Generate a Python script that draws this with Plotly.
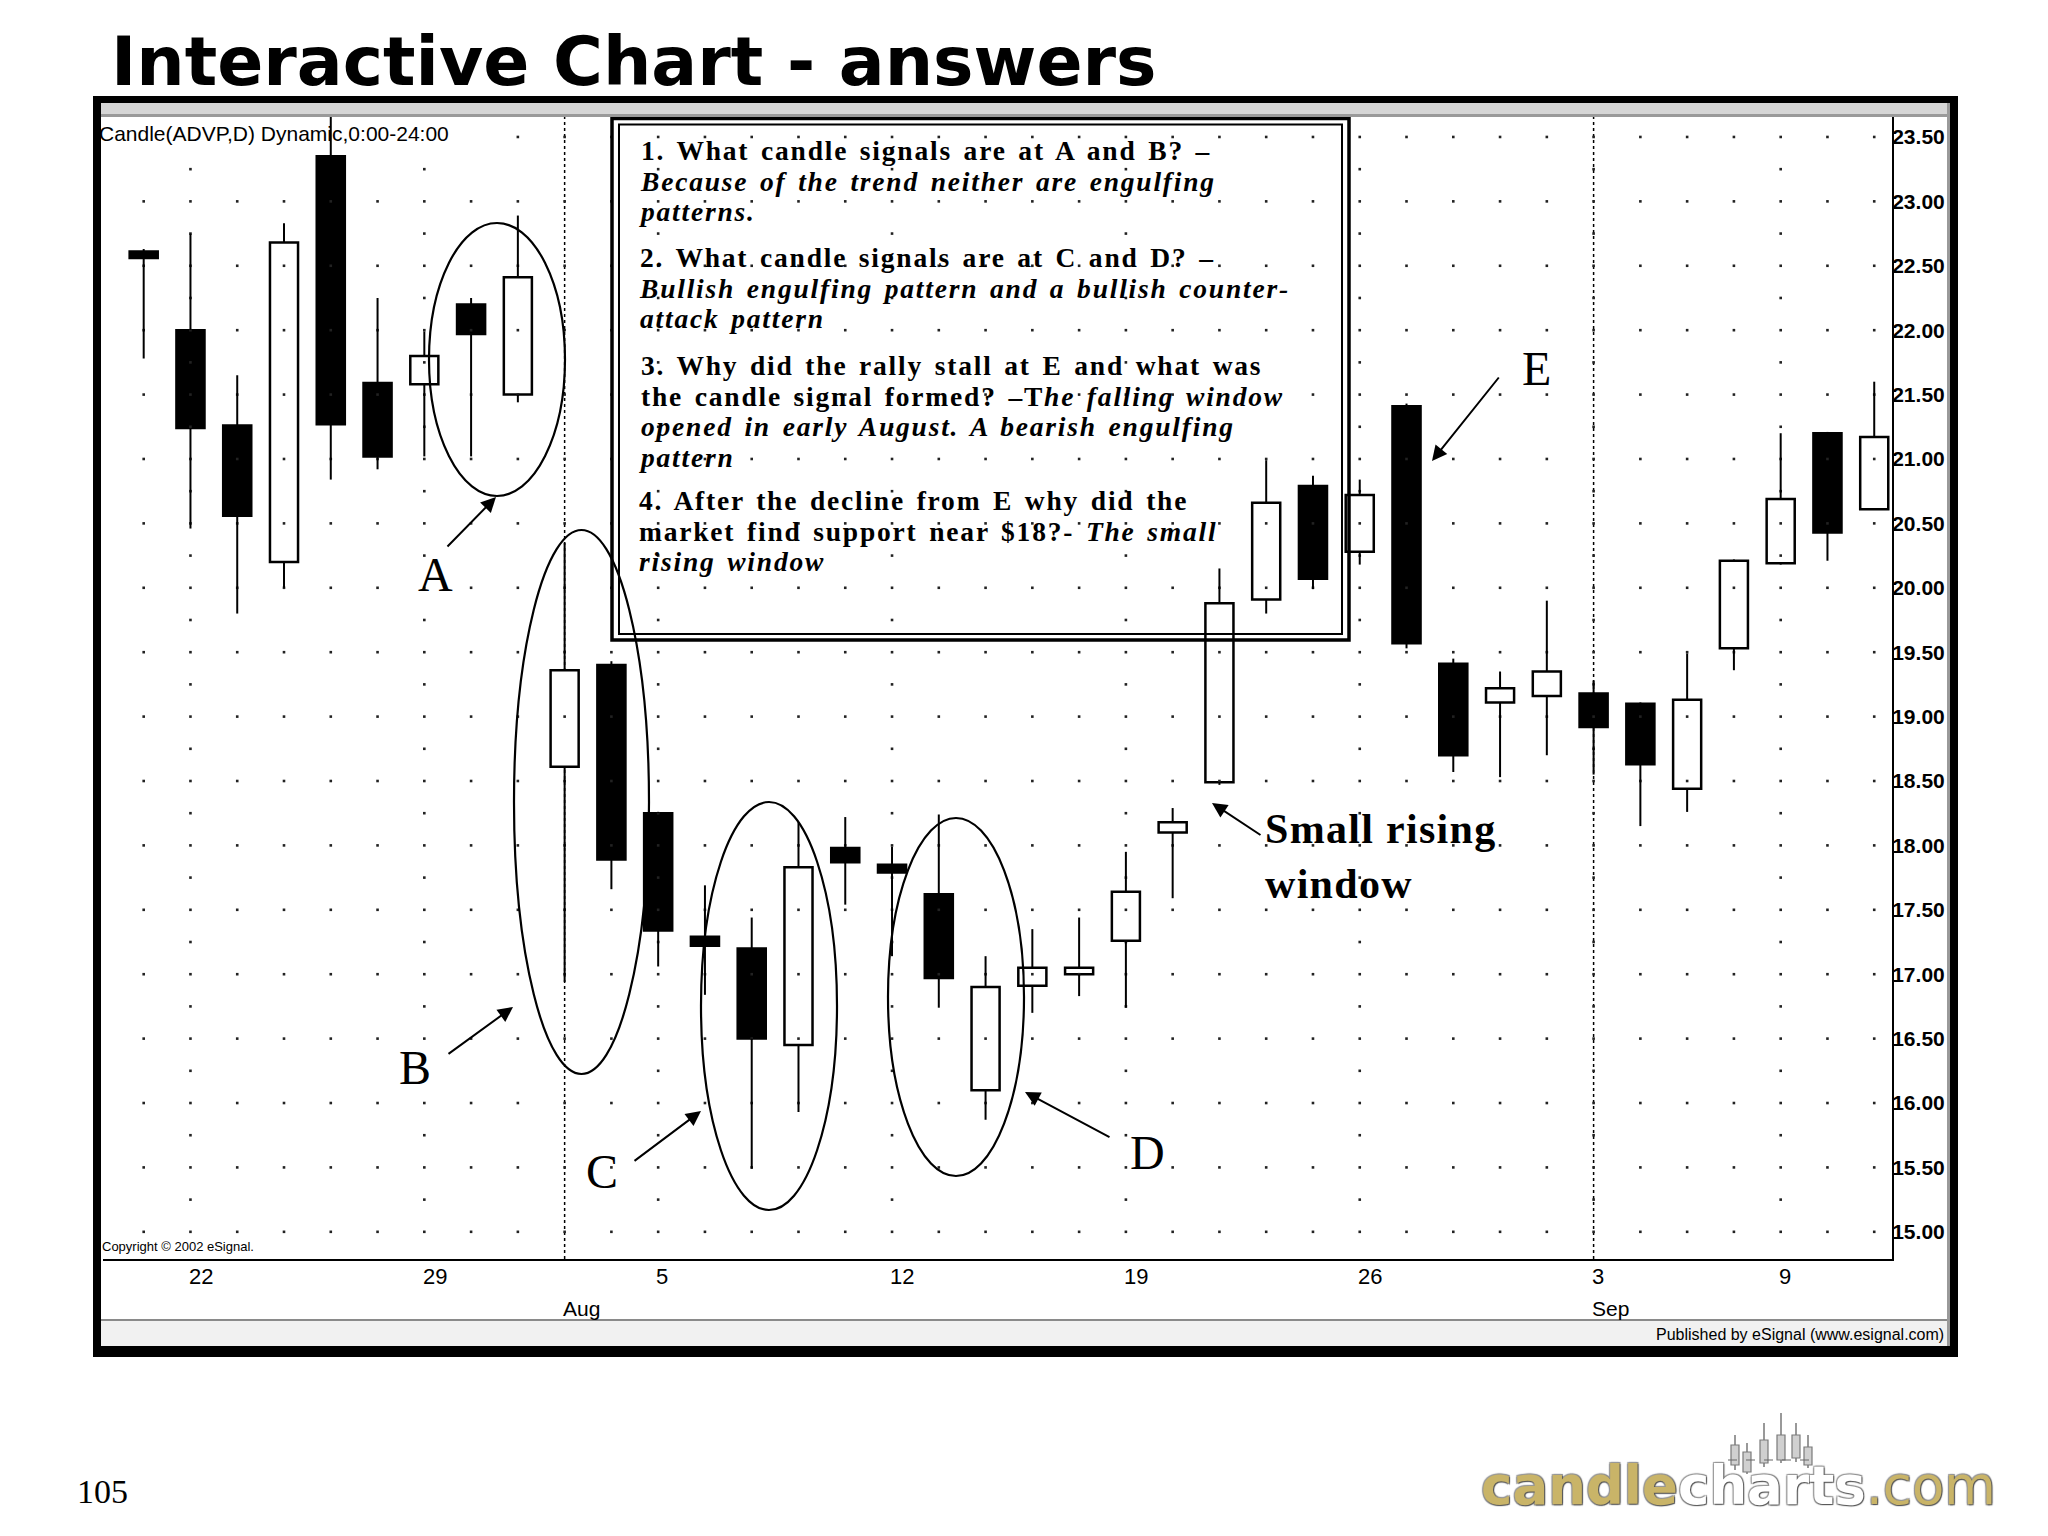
import plotly.graph_objects as go

# ---------------- data ----------------
dates = ["2002-07-19", "2002-07-22", "2002-07-23", "2002-07-24", "2002-07-25", "2002-07-26",
         "2002-07-29", "2002-07-30", "2002-07-31", "2002-08-01", "2002-08-02",
         "2002-08-05", "2002-08-06", "2002-08-07", "2002-08-08", "2002-08-09",
         "2002-08-12", "2002-08-13", "2002-08-14", "2002-08-15", "2002-08-16",
         "2002-08-19", "2002-08-20", "2002-08-21", "2002-08-22", "2002-08-23",
         "2002-08-26", "2002-08-27", "2002-08-28", "2002-08-29", "2002-08-30",
         "2002-09-03", "2002-09-04", "2002-09-05", "2002-09-06",
         "2002-09-09", "2002-09-10", "2002-09-11"]
opens = [22.61, 22.00, 21.26, 20.20, 23.35, 21.59, 21.58, 22.20, 21.50, 18.61, 19.40,
         18.25, 17.29, 17.20, 16.45, 17.98, 17.85, 17.62, 16.10, 16.91, 17.00,
         17.26, 18.10, 18.49, 19.91, 20.79, 20.28, 21.41, 19.41, 19.11, 19.16,
         19.18, 19.10, 18.44, 19.53, 20.19, 21.20, 20.61]
highs = [22.63, 22.75, 21.65, 22.83, 23.70, 22.25, 21.99, 22.25, 22.89, 20.35, 19.43,
         18.26, 17.69, 17.44, 18.18, 18.22, 17.99, 18.24, 17.14, 17.35, 17.44,
         17.95, 18.29, 20.15, 20.99, 20.87, 20.84, 21.43, 19.45, 19.35, 19.90,
         19.28, 19.11, 19.49, 20.22, 21.20, 21.21, 21.60]
lows = [21.78, 20.46, 19.80, 20.00, 20.84, 20.92, 21.02, 21.02, 21.44, 16.94, 17.66,
        17.06, 16.84, 15.49, 15.93, 17.54, 17.14, 16.74, 15.87, 16.70, 16.83,
        16.74, 17.59, 18.47, 19.80, 19.99, 20.18, 19.53, 18.57, 18.53, 18.70,
        18.55, 18.15, 18.26, 19.36, 20.18, 20.21, 20.61]
closes = [22.56, 21.24, 20.56, 22.68, 21.27, 21.02, 21.80, 21.97, 22.41, 19.36, 17.89,
          17.34, 17.22, 16.50, 17.83, 17.87, 17.79, 16.97, 16.90, 17.05, 17.05,
          17.64, 18.18, 19.88, 20.66, 20.07, 20.72, 19.57, 18.70, 19.22, 19.35,
          18.92, 18.63, 19.13, 20.21, 20.69, 20.43, 21.17]

price_ticks = [15.0, 15.5, 16.0, 16.5, 17.0, 17.5, 18.0, 18.5, 19.0, 19.5,
               20.0, 20.5, 21.0, 21.5, 22.0, 22.5, 23.0, 23.5]
week_dates = ["2002-07-22", "2002-07-29", "2002-08-05", "2002-08-12",
              "2002-08-19", "2002-08-26", "2002-09-03", "2002-09-09"]
week_labels = ["22", "29", "5", "12", "19", "26", "3", "9"]
month_dates = ["2002-08-01", "2002-09-03"]
month_labels = ["Aug", "Sep"]

# ---------------- geometry (page pixels of the plot area) ----------------
W, H = 2048, 1536
OFF = 8                      # page body margin around the figure
L, R, T, B = 103, 1892, 117, 1259
XR = [-0.87, 37.38]
YR = [14.789, 23.655]


def px(X):
    return (X - L) / (R - L)


def py(Y):
    return (B - Y) / (B - T)


def dx(X):
    return XR[0] + (X - L) / (R - L) * (XR[1] - XR[0])


def dy(Y):
    return YR[1] - (Y - T) / (B - T) * (YR[1] - YR[0])


SANS = "Liberation Sans, Arial, sans-serif"
SERIF = "Liberation Serif, Times New Roman, serif"

idx = list(range(len(dates)))
pos = {d: i for i, d in enumerate(dates)}

# ---------------- candle pieces ----------------
bases = [min(o, c) for o, c in zip(opens, closes)]
heights = [abs(c - o) for o, c in zip(opens, closes)]
fills = ["white" if c >= o else "black" for o, c in zip(opens, closes)]

wx, wy = [], []
for i, (o, h, l, c) in enumerate(zip(opens, highs, lows, closes)):
    lo_b, hi_b = min(o, c), max(o, c)
    if h > hi_b:
        wx += [i, i, None]
        wy += [hi_b, h, None]
    if l < lo_b:
        wx += [i, i, None]
        wy += [l, lo_b, None]

# grid dots: every candle column on every half-point, weekly columns on quarter points
gx, gy = [], []
for p in price_ticks:
    for i in idx:
        if p == 23.5 and i < 8:
            continue  # hidden behind the study label
        gx.append(i)
        gy.append(p)
week_idx = [pos[d] for d in week_dates]
q = 14.75
while q <= 23.51:
    if abs((q * 2) - round(q * 2)) > 1e-6:
        for i in week_idx:
            gx.append(i)
            gy.append(q)
    q += 0.25

fig = go.Figure()
fig.add_trace(go.Scatter(x=gx, y=gy, mode="markers",
                         marker=dict(symbol="square", size=2.6, color="#222222"),
                         hoverinfo="skip"))
fig.add_trace(go.Bar(x=idx, y=heights, base=bases, width=0.6,
                     marker=dict(color=fills, line=dict(color="black", width=2.5)),
                     hoverinfo="skip"))
fig.add_trace(go.Scatter(x=wx, y=wy, mode="lines",
                         line=dict(color="black", width=2), hoverinfo="skip"))

shapes = []
# month separators
for d in month_dates:
    shapes.append(dict(type="line", xref="x", yref="paper", x0=pos[d], x1=pos[d],
                       y0=0, y1=1, line=dict(color="black", width=1.5, dash="dot"),
                       layer="below"))

# ellipses A, B, C, D
for (x0, x1, y0, y1) in [(429, 565, 223, 496), (514, 649, 530, 1074),
                         (701, 837, 802, 1210), (888, 1024, 818, 1176)]:
    shapes.append(dict(type="circle", xref="x", yref="y", x0=dx(x0), x1=dx(x1),
                       y0=dy(y1), y1=dy(y0), line=dict(color="black", width=2.2)))

# double framed question box
shapes.append(dict(type="rect", xref="x", yref="y", x0=dx(612), x1=dx(1349),
                   y0=dy(640), y1=dy(118.5), line=dict(color="black", width=3.5)))
shapes.append(dict(type="rect", xref="x", yref="y", x0=dx(619), x1=dx(1342),
                   y0=dy(634), y1=dy(124.5), line=dict(color="black", width=2)))


def prect(x0, y0, x1, y1, fill, lw=0, lc=None):
    shapes.append(dict(type="rect", xref="paper", yref="paper",
                       x0=px(x0), x1=px(x1), y0=py(y1), y1=py(y0),
                       fillcolor=fill, line=dict(width=lw, color=lc or fill),
                       layer="above"))


# window chrome
prect(101, 103, 1950, 116, "#d6d6d6")
prect(101, 114, 1950, 117, "#9a9a9a")
prect(101, 1320, 1950, 1346, "#f1f1f1")
prect(101, 1319, 1950, 1321, "#8a8a8a")
prect(1947, 103, 1950, 1346, "#9a9a9a")
# heavy black frame
prect(93, 96, 1958, 103, "black")
prect(93, 1346, 1958, 1357, "black")
prect(93, 96, 101, 1357, "black")
prect(1950, 96, 1958, 1357, "black")

# little candle icon of the logo
for (cx, bt, bb, wt, wb) in [(1735, 1445, 1465, 1435, 1470), (1747, 1452, 1472, 1443, 1474),
                              (1764, 1440, 1463, 1423, 1467), (1781, 1435, 1460, 1413, 1463),
                              (1796, 1435, 1458, 1423, 1462), (1808, 1447, 1465, 1435, 1468)]:
    shapes.append(dict(type="line", xref="paper", yref="paper", x0=px(cx), x1=px(cx),
                       y0=py(wb), y1=py(wt), line=dict(color="#777777", width=1.5)))
    shapes.append(dict(type="rect", xref="paper", yref="paper", x0=px(cx - 4), x1=px(cx + 4),
                       y0=py(bb), y1=py(bt), fillcolor="#d0d0d0",
                       line=dict(color="#7a7a7a", width=1.2)))
shapes.append(dict(type="line", xref="paper", yref="paper", x0=px(1728), x1=px(1816),
                   y0=py(1460), y1=py(1460), line=dict(color="#666666", width=1.2, dash="dash")))

ann = []
# question box text: one block per question, tight line pitch
QS = 27.5
PITCH = 30.5
QSTYLE = f"font-size:{QS}px;letter-spacing:1.8px;word-spacing:3px"
paragraphs = [
    (158, ["<b>1. What candle signals are at A and B? –</b>",
           "<b><i>Because of the trend neither are engulfing</i></b>",
           "<b><i>patterns.</i></b>"]),
    (265, ["<b>2. What candle signals are at C and D? –</b>",
           "<b><i>Bullish engulfing pattern and a bullish counter-</i></b>",
           "<b><i>attack pattern</i></b>"]),
    (373, ["<b>3. Why did the rally stall at E and what was</b>",
           "<b>the candle signal formed? –T<i>he falling window</i></b>",
           "<b><i>opened in early August. A bearish engulfing</i></b>",
           "<b><i>pattern</i></b>"]),
    (508, ["<b>4. After the decline from E why did the</b>",
           "<b>market find support near $18?- <i>The small</i></b>",
           "<b><i>rising window</i></b>"]),
]
for base, lines in paragraphs:
    txt = "<br>".join(f"<span style='{QSTYLE}'>{t}</span>" for t in lines)
    ann.append(dict(text=txt, xref="x", yref="y", x=dx(637), y=dy(base - 0.891 * QS - 1),
                    xanchor="left", yanchor="top", align="left", showarrow=False,
                    font=dict(family=SERIF, size=PITCH / 1.3, color="black")))

# letter labels
for t, X, Y in [("A", 435, 574), ("B", 415, 1067), ("C", 602, 1171),
                ("D", 1147, 1152), ("E", 1536, 368)]:
    ann.append(dict(text=t, xref="x", yref="y", x=dx(X), y=dy(Y), showarrow=False,
                    xanchor="center", yanchor="middle",
                    font=dict(family=SERIF, size=48, color="black")))

ann.append(dict(text="<span style='letter-spacing:1.3px'><b>Small rising</b></span><br>"
                     "<span style='letter-spacing:1.3px'><b>window</b></span>",
                xref="x", yref="y",
                x=dx(1263), y=dy(856), xanchor="left", yanchor="middle", align="left",
                showarrow=False, font=dict(family=SERIF, size=42, color="black")))

# arrows (head, tail)
for (hx, hy, tx, ty) in [(496, 497, 446, 548), (513, 1007, 447, 1055),
                         (701, 1111, 633, 1162), (1025, 1092, 1111, 1138),
                         (1432, 461, 1500, 376), (1212, 803, 1262, 836)]:
    ann.append(dict(text="", xref="x", yref="y", x=dx(hx), y=dy(hy),
                    axref="pixel", ayref="pixel", ax=tx - hx, ay=ty - hy,
                    showarrow=True, arrowhead=2, arrowsize=1.5, arrowwidth=2,
                    arrowcolor="black", standoff=0))

# date axis labels
for d, t in zip(week_dates, week_labels):
    ann.append(dict(text=t, xref="x", yref="paper", x=pos[d] - 0.08, y=py(1276),
                    xanchor="left", yanchor="middle", showarrow=False,
                    font=dict(family=SANS, size=22, color="black")))
for d, t in zip(month_dates, month_labels):
    ann.append(dict(text=t, xref="x", yref="paper", x=pos[d] - 0.08, y=py(1308),
                    xanchor="left", yanchor="middle", showarrow=False,
                    font=dict(family=SANS, size=21, color="black")))

# chart captions
ann.append(dict(text="Candle(ADVP,D) Dynamic,0:00-24:00", xref="paper", yref="paper",
                x=px(97), y=py(134), xanchor="left", yanchor="middle", showarrow=False,
                font=dict(family=SANS, size=21, color="black")))
ann.append(dict(text="Copyright © 2002 eSignal.", xref="paper", yref="paper",
                x=px(100), y=py(1246), xanchor="left", yanchor="middle", showarrow=False,
                font=dict(family=SANS, size=13, color="black")))
ann.append(dict(text="Published by eSignal (www.esignal.com)", xref="paper", yref="paper",
                x=px(1946), y=py(1334), xanchor="right", yanchor="middle", showarrow=False,
                font=dict(family=SANS, size=16, color="black")))
ann.append(dict(text="105", xref="paper", yref="paper", x=px(102), y=py(1491),
                xanchor="center", yanchor="middle", showarrow=False,
                font=dict(family=SERIF, size=34, color="black")))
ann.append(dict(text="<span style='color:#c9b468'><b>candle</b></span>"
                     "<span style='color:#ffffff'><b>charts</b></span>"
                     "<span style='color:#c9b468'>.com</span>",
                xref="paper", yref="paper", x=px(1738), y=py(1485),
                xanchor="center", yanchor="middle", showarrow=False,
                font=dict(family="DejaVu Sans", size=53, color="#c9b468",
                          shadow="1px 1px 1px #555, -1px -1px 1px #999, 1px -1px 1px #888, -1px 1px 1px #888")))

fig.update_layout(
    width=W, height=H,
    margin=dict(l=L - OFF, r=W - (R - OFF), t=T - OFF, b=H - (B - OFF), autoexpand=False),
    paper_bgcolor="white", plot_bgcolor="white",
    showlegend=False, barmode="overlay",
    title=dict(text="<b>Interactive Chart - answers</b>", xref="container", yref="container",
               x=(111 - OFF) / W, y=1 - (61.5 - OFF) / H, xanchor="left", yanchor="middle",
               font=dict(family="DejaVu Sans", size=68, color="black")),
    xaxis=dict(range=XR, showgrid=False, zeroline=False, showticklabels=False,
               showline=True, linecolor="black", linewidth=2, ticks=""),
    yaxis=dict(range=YR, side="right", showgrid=False, zeroline=False,
               tickvals=price_ticks, ticktext=[f"<b>{v:.2f}</b>" for v in price_ticks],
               tickfont=dict(family=SANS, size=21, color="black"),
               showline=True, linecolor="black", linewidth=2, ticks="",
               ticklabelstandoff=-6),
    shapes=shapes, annotations=ann,
)

fig.write_html("out.html")
